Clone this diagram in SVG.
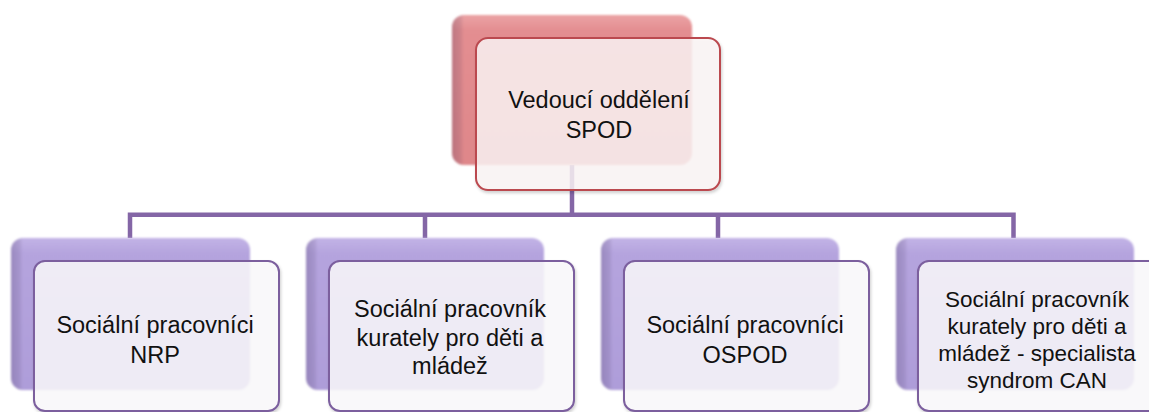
<svg xmlns="http://www.w3.org/2000/svg" width="1149" height="412" viewBox="0 0 1149 412">
  <defs>
    <linearGradient id="gRed" x1="0" y1="0" x2="0" y2="1">
      <stop offset="0" stop-color="#eba3a5"/>
      <stop offset="0.1" stop-color="#e38e91"/>
      <stop offset="1" stop-color="#df878a"/>
    </linearGradient>
    <linearGradient id="gPur" x1="0" y1="0" x2="0" y2="1">
      <stop offset="0" stop-color="#c2b3e6"/>
      <stop offset="0.1" stop-color="#b5a4de"/>
      <stop offset="1" stop-color="#ae9dd9"/>
    </linearGradient>
    <linearGradient id="gLeft" x1="0" y1="0" x2="1" y2="0">
      <stop offset="0" stop-color="#3a2a50" stop-opacity="0.22"/>
      <stop offset="0.035" stop-color="#3a2a50" stop-opacity="0.12"/>
      <stop offset="0.05" stop-color="#3a2a50" stop-opacity="0"/>
    </linearGradient>
    <filter id="soft" x="-5%" y="-5%" width="110%" height="110%">
      <feGaussianBlur stdDeviation="0.9"/>
    </filter>
    <filter id="shadow" x="-5%" y="-5%" width="115%" height="115%">
      <feDropShadow dx="1" dy="2" stdDeviation="1.5" flood-color="#000" flood-opacity="0.2"/>
    </filter>
  </defs>
  <style>
    .conn { fill: none; stroke: #8466a6; stroke-width: 4.5; stroke-linejoin: miter; }
    .backR { fill: url(#gRed); }
    .backP { fill: url(#gPur); }
    .shade { fill: url(#gLeft); }
    .frontR { fill: #fdf6f7; fill-opacity: 0.82; stroke: #bb4a50; stroke-width: 2; }
    .frontP { fill: #fbfafd; fill-opacity: 0.84; stroke: #7b5f9e; stroke-width: 2; }
    text { font-family: "Liberation Sans", Arial, sans-serif; font-size: 23.5px; fill: #111; text-anchor: middle; }
    .small { font-size: 22.5px; }
  </style>

  <rect width="1149" height="412" fill="#ffffff"/>

  <g id="connectors">
    <path class="conn" d="M572,165 V214.8"/>
    <path class="conn" d="M130,238 V214.8 H1013.5 V238"/>
    <path class="conn" d="M425,214.8 V238 M718,214.8 V238"/>
  </g>

  <g id="node-vedouci">
    <g filter="url(#soft)">
      <rect class="backR" x="452" y="15" width="240" height="150" rx="12"/>
      <rect class="shade" x="452" y="15" width="240" height="150" rx="12"/>
    </g>
    <rect class="frontR" x="476" y="38" width="244" height="152" rx="12" filter="url(#shadow)"/>
    <text x="599" y="108">Vedoucí oddělení</text>
    <text x="599" y="138">SPOD</text>
  </g>

  <g id="node-nrp">
    <g filter="url(#soft)">
      <rect class="backP" x="11" y="238" width="239" height="152" rx="12"/>
      <rect class="shade" x="11" y="238" width="239" height="152" rx="12"/>
    </g>
    <rect class="frontP" x="34" y="261" width="245" height="150" rx="11" filter="url(#shadow)"/>
    <text x="155" y="333">Sociální pracovníci</text>
    <text x="155" y="363">NRP</text>
  </g>

  <g id="node-kuratele">
    <g filter="url(#soft)">
      <rect class="backP" x="306" y="238" width="238" height="152" rx="12"/>
      <rect class="shade" x="306" y="238" width="238" height="152" rx="12"/>
    </g>
    <rect class="frontP" x="329" y="261" width="245" height="150" rx="11" filter="url(#shadow)"/>
    <text x="450" y="317">Sociální pracovník</text>
    <text x="450" y="345.5">kurately pro děti a</text>
    <text x="450" y="374">mládež</text>
  </g>

  <g id="node-ospod">
    <g filter="url(#soft)">
      <rect class="backP" x="601" y="238" width="238" height="152" rx="12"/>
      <rect class="shade" x="601" y="238" width="238" height="152" rx="12"/>
    </g>
    <rect class="frontP" x="624" y="261" width="245" height="150" rx="11" filter="url(#shadow)"/>
    <text x="745" y="333">Sociální pracovníci</text>
    <text x="745" y="363">OSPOD</text>
  </g>

  <g id="node-can">
    <g filter="url(#soft)">
      <rect class="backP" x="896" y="238" width="238" height="152" rx="12"/>
      <rect class="shade" x="896" y="238" width="238" height="152" rx="12"/>
    </g>
    <rect class="frontP" x="918" y="261" width="245" height="150" rx="11" filter="url(#shadow)"/>
    <text class="small" x="1037" y="307">Sociální pracovník</text>
    <text class="small" x="1037" y="334">kurately pro děti a</text>
    <text class="small" x="1037" y="361">mládež - specialista</text>
    <text class="small" x="1037" y="388">syndrom CAN</text>
  </g>
</svg>
